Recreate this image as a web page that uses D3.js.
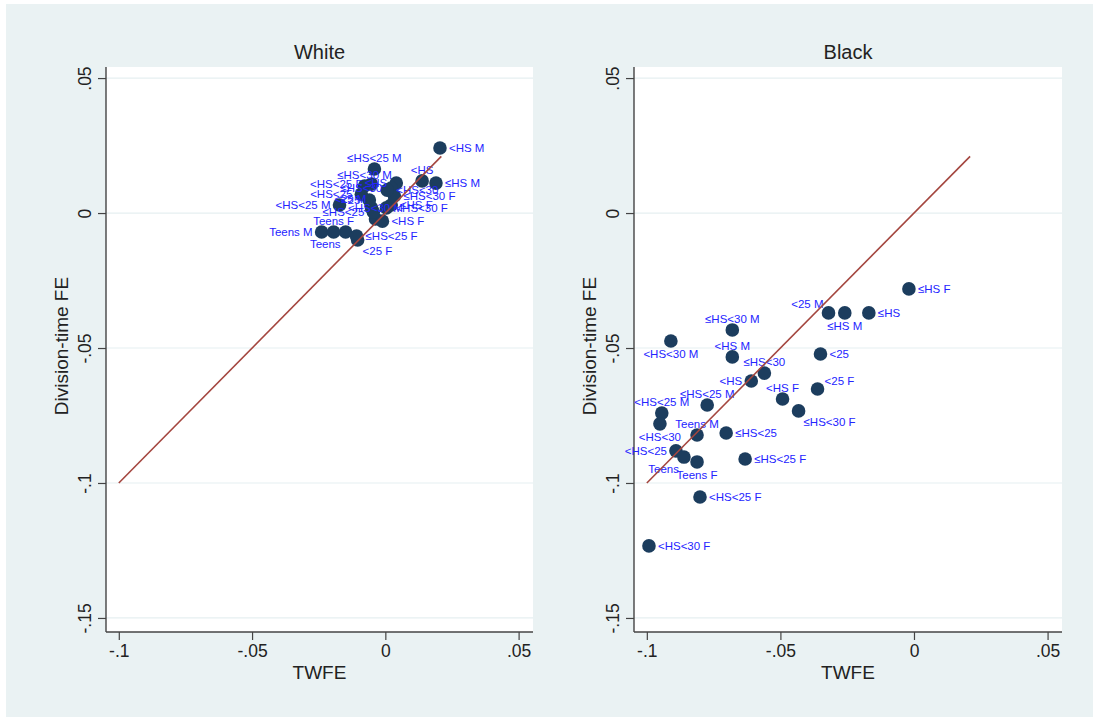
<!DOCTYPE html>
<html>
<head>
<meta charset="utf-8">
<script src="https://cdn.jsdelivr.net/npm/d3@7"></script>
<style>
  body { margin: 0; background: #ffffff; }
  svg { display: block; }
  text { font-family: "Liberation Sans", Arial, Helvetica, sans-serif; }
</style>
</head>
<body>
<svg id="chart" width="1093" height="717"></svg>
<script>
// Demographic groups (same order in both panels)
const groups = ["≤HS F", "<25 M", "≤HS M", "≤HS", "≤HS<30 M", "<HS<30 M", "<HS M", "<25",
  "≤HS<30", "<HS", "<25 F", "<HS F", "≤HS<30 F", "≤HS<25 M", "<HS<25 M", "<HS<30",
  "Teens M", "≤HS<25", "<HS<25", "Teens", "Teens F", "≤HS<25 F", "<HS<25 F", "<HS<30 F"];

// White workers: TWFE estimate vs. division-time FE estimate
const whiteTWFE  = [0.0022, -0.0052, 0.0190, 0.0041, -0.0078, -0.0037, 0.0205, -0.0060,
  0.0022, 0.0138, -0.0104, -0.0011, 0.0034, -0.0041, -0.0172, 0.0007,
  -0.0239, -0.0045, -0.0090, -0.0149, -0.0194, -0.0108, -0.0052, 0.0004];
const whiteDivFE = [0.0030, 0.0019, 0.0111, 0.0111, 0.0100, -0.0022, 0.0241, 0.0048,
  0.0093, 0.0119, -0.0100, -0.0030, 0.0063, 0.0163, 0.0030, 0.0085,
  -0.0070, 0.0004, 0.0070, -0.0070, -0.0070, -0.0085, 0.0107, 0.0019];

// Black workers
const blackTWFE  = [-0.0019, -0.0320, -0.0259, -0.0169, -0.0680, -0.0910, -0.0680, -0.0350,
  -0.0560, -0.0609, -0.0361, -0.0492, -0.0432, -0.0774, -0.0944, -0.0951,
  -0.0812, -0.0703, -0.0891, -0.0861, -0.0812, -0.0632, -0.0801, -0.0992];
const blackDivFE = [-0.0281, -0.0370, -0.0370, -0.0370, -0.0433, -0.0474, -0.0533, -0.0522,
  -0.0593, -0.0622, -0.0652, -0.0689, -0.0733, -0.0711, -0.0741, -0.0781,
  -0.0822, -0.0815, -0.0881, -0.0904, -0.0922, -0.0911, -0.1052, -0.1233];

// Axis ticks
const xTicks = [-0.1, -0.05, 0, 0.05];
const yTicks = [0.05, 0, -0.05, -0.1, -0.15];

// 45-degree reference line endpoints
const refLine = [-0.1, 0.021];

const panelTitles = ["White", "Black"];
const xTitle = "TWFE";
const yTitle = "Division-time FE";

// Marker-label placement (clock positions)
const whiteLabelClock = [3, 11, 3, 9, 12, 12, 3, 9, 9, 12, 5, 3, 3, 12, 9, 3, 9, 9, 9, 7, 12, 3, 9, 3];
const blackLabelClock = [3, 11, 6, 3, 12, 6, 12, 3, 12, 9, 1, 12, 5, 12, 12, 6, 12, 3, 9, 7, 6, 3, 3, 3];

const fmt = v => v === 0 ? "0" : (v < 0 ? "-" : "") + String(Math.abs(v)).replace(/^0/, "");

const svg = d3.select("#chart");

// Graph region background
svg.append("rect").attr("x", 6).attr("y", 4).attr("width", 1087).attr("height", 713)
  .attr("fill", "#eaf2f3");

const panels = [
  { title: panelTitles[0], xs: whiteTWFE, ys: whiteDivFE, clock: whiteLabelClock, x0: 106, x1: 533 },
  { title: panelTitles[1], xs: blackTWFE, ys: blackDivFE, clock: blackLabelClock, x0: 634, x1: 1062 }
];
const plotTop = 67, plotBottom = 632;

// label offsets for each clock position
function labelPlacement(c) {
  switch (c) {
    case 12: return { dx: 0, dy: -11, anchor: "middle" };
    case 6:  return { dx: 0, dy: 13, anchor: "middle" };
    case 9:  return { dx: -9, dy: 0, anchor: "end" };
    case 11: return { dx: -5, dy: -9, anchor: "end" };
    case 7:  return { dx: -5, dy: 12, anchor: "end" };
    case 1:  return { dx: 7, dy: -8, anchor: "start" };
    case 5:  return { dx: 5, dy: 11, anchor: "start" };
    default: return { dx: 9, dy: 0, anchor: "start" };
  }
}

panels.forEach(p => {
  const x = d3.scaleLinear().domain([-0.1048, 0.0554]).range([p.x0, p.x1]);
  const y = d3.scaleLinear().domain([-0.1552, 0.0541]).range([plotBottom, plotTop]);
  const g = svg.append("g");

  // plot region
  g.append("rect").attr("x", p.x0).attr("y", plotTop)
    .attr("width", p.x1 - p.x0).attr("height", plotBottom - plotTop).attr("fill", "#ffffff");

  // horizontal grid lines
  g.selectAll("line.grid").data(yTicks).join("line")
    .attr("class", "grid")
    .attr("x1", p.x0).attr("x2", p.x1)
    .attr("y1", d => y(d)).attr("y2", d => y(d))
    .attr("stroke", "#e6eff1").attr("stroke-width", 1.2);

  // y axis
  const ya = g.append("g").attr("transform", `translate(${p.x0},0)`)
    .call(d3.axisLeft(y).tickValues(yTicks).tickFormat(fmt).tickSize(8).tickSizeOuter(0));
  ya.select(".domain").remove();
  ya.selectAll(".tick line").attr("stroke", "#444").attr("stroke-width", 1.2);
  ya.selectAll(".tick text")
    .attr("transform", "rotate(-90)")
    .attr("x", 0).attr("y", -15).attr("dy", 0)
    .attr("text-anchor", "middle")
    .attr("fill", "#222").style("font-size", "17.5px");

  // x axis
  const xa = g.append("g").attr("transform", `translate(0,${plotBottom})`)
    .call(d3.axisBottom(x).tickValues(xTicks).tickFormat(fmt).tickSize(8).tickSizeOuter(0));
  xa.select(".domain").remove();
  xa.selectAll(".tick line").attr("stroke", "#444").attr("stroke-width", 1.2);
  xa.selectAll(".tick text").attr("y", 25).attr("dy", 0)
    .attr("fill", "#222").style("font-size", "17.5px");

  // axis lines
  g.append("line").attr("x1", p.x0).attr("x2", p.x0).attr("y1", plotTop).attr("y2", plotBottom)
    .attr("stroke", "#444").attr("stroke-width", 1.4);
  g.append("line").attr("x1", p.x0).attr("x2", p.x1).attr("y1", plotBottom).attr("y2", plotBottom)
    .attr("stroke", "#444").attr("stroke-width", 1.4);

  // titles
  const cx = (p.x0 + p.x1) / 2;
  g.append("text").attr("x", cx).attr("y", 59).attr("text-anchor", "middle")
    .attr("fill", "#222").style("font-size", "20px").text(p.title);
  g.append("text").attr("x", cx).attr("y", 679).attr("text-anchor", "middle")
    .attr("fill", "#222").style("font-size", "19px").text(xTitle);
  g.append("text").attr("transform", `translate(${p.x0 - 38},346) rotate(-90)`)
    .attr("text-anchor", "middle").attr("fill", "#222").style("font-size", "19px").text(yTitle);

  // markers and labels
  const pts = groups.map((name, i) => ({ name, tx: p.xs[i], fy: p.ys[i], clock: p.clock[i] }));
  g.selectAll("circle.pt").data(pts).join("circle")
    .attr("class", "pt")
    .attr("cx", d => x(d.tx)).attr("cy", d => y(d.fy)).attr("r", 6.8)
    .attr("fill", "#1c3d5e");
  g.selectAll("text.lab").data(pts).join("text")
    .attr("class", "lab")
    .each(function (d) {
      const pl = labelPlacement(d.clock);
      d3.select(this)
        .attr("x", x(d.tx) + pl.dx).attr("y", y(d.fy) + pl.dy)
        .attr("text-anchor", pl.anchor)
        .attr("dominant-baseline", "central");
    })
    .attr("fill", "#2424ff").style("font-size", "11.5px")
    .text(d => d.name);

  // 45-degree line
  g.append("line")
    .attr("x1", x(refLine[0])).attr("y1", y(refLine[0]))
    .attr("x2", x(refLine[1])).attr("y2", y(refLine[1]))
    .attr("stroke", "#a4463f").attr("stroke-width", 1.6);
});
</script>
</body>
</html>
